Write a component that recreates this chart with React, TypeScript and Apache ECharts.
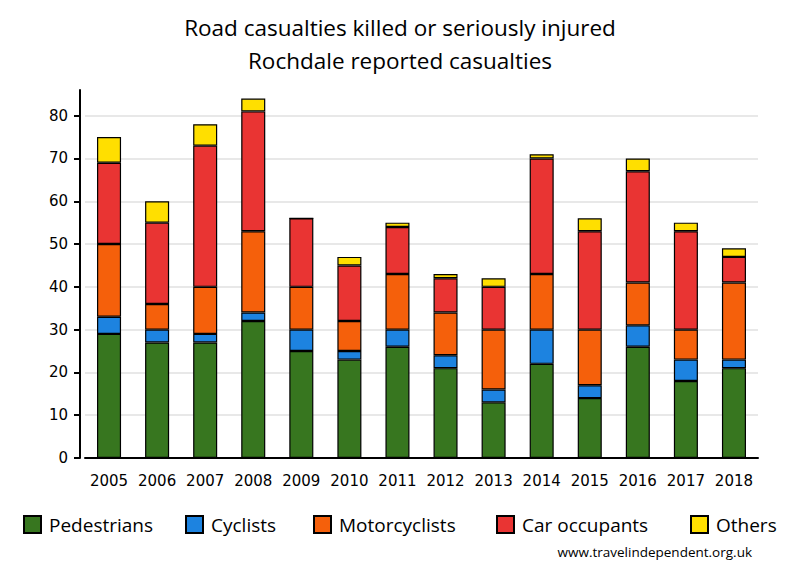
import React, { useEffect, useRef } from "react";
import * as echarts from "echarts";

const years = ["2005","2006","2007","2008","2009","2010","2011","2012","2013","2014","2015","2016","2017","2018"];
const pedestrians = [29, 27, 27, 32, 25, 23, 26, 21, 13, 22, 14, 26, 18, 21];
const cyclists = [4, 3, 2, 2, 5, 2, 4, 3, 3, 8, 3, 5, 5, 2];
const motorcyclists = [17, 6, 11, 19, 10, 7, 13, 10, 14, 13, 13, 10, 7, 18];
const carOccupants = [19, 19, 33, 28, 16, 13, 11, 8, 10, 27, 23, 26, 23, 6];
const others = [6, 5, 5, 3, 0, 2, 1, 1, 2, 1, 3, 3, 2, 2];

const seriesDefs = [
  { name: "Pedestrians", data: pedestrians, color: "#37761f" },
  { name: "Cyclists", data: cyclists, color: "#1d83e0" },
  { name: "Motorcyclists", data: motorcyclists, color: "#f5600b" },
  { name: "Car occupants", data: carOccupants, color: "#e93433" },
  { name: "Others", data: others, color: "#ffdf00" },
];
const legendLefts = [18, 180, 308, 491, 685];

export default function App() {
  const ref = useRef<HTMLDivElement>(null);
  useEffect(() => {
    if (!ref.current) return;
    const chart = echarts.init(ref.current, null, { renderer: "svg" });
    chart.setOption({
      animation: false,
      backgroundColor: "#ffffff",
      title: {
        text: "Road casualties killed or seriously injured\nRochdale reported casualties",
        left: "center",
        top: 6,
        textStyle: {
          fontFamily: "Open Sans",
          fontSize: 22.5,
          fontWeight: "normal",
          color: "#000",
          lineHeight: 33,
        },
      },
      legend: seriesDefs.map((s, i) => ({
        left: legendLefts[i],
        top: 510,
        itemWidth: 17,
        itemHeight: 17,
        icon: "rect",
        textStyle: { fontFamily: "Open Sans", fontSize: 19, color: "#000", padding: [0, 0, 0, 3] },
        data: [s.name],
      })),
      graphic: [
        {
          type: "text",
          right: 48,
          top: 545,
          style: { text: "www.travelindependent.org.uk", fontFamily: "Open Sans", fontSize: 13.5, fill: "#000" },
        },
      ],
      grid: { left: 85, right: 42, top: 90, bottom: 122 },
      xAxis: {
        type: "category",
        data: years,
        axisLine: { lineStyle: { color: "#000", width: 2 } },
        axisTick: { show: false },
        axisLabel: { fontFamily: "DejaVu Sans", fontSize: 15, color: "#000", margin: 15, interval: 0 },
      },
      yAxis: {
        type: "value",
        min: 0,
        max: 86,
        interval: 10,
        offset: 5,
        axisLine: { show: true, lineStyle: { color: "#000", width: 2 } },
        axisTick: { show: true, length: 6, lineStyle: { color: "#000", width: 2 } },
        axisLabel: { fontFamily: "DejaVu Sans", fontSize: 15, color: "#000", margin: 12, showMaxLabel: false },
        splitLine: { show: true, showMaxLine: false, lineStyle: { color: "#e8e8e8", width: 2 } },
      },
      series: seriesDefs.map((s) => ({
        name: s.name,
        type: "bar",
        stack: "total",
        data: s.data,
        barWidth: "50%",
        itemStyle: { color: s.color, borderColor: "#000", borderWidth: 1.2 },
      })),
    });
    return () => chart.dispose();
  }, []);
  return <div ref={ref} style={{ width: 800, height: 580, position: "absolute", left: 0, top: 0 }} />;
}
